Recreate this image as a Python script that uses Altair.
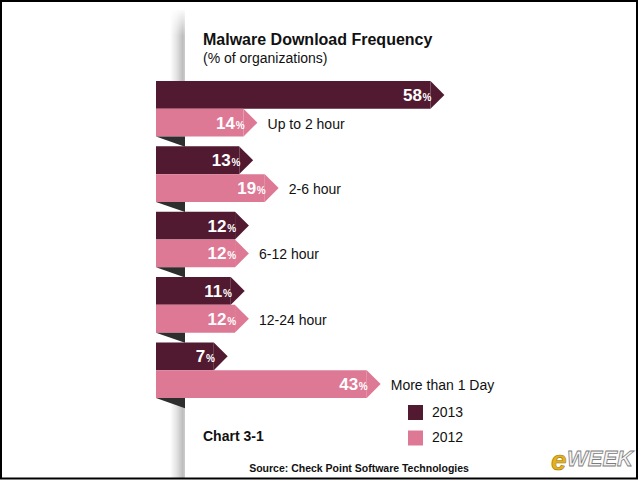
import altair as alt
import pandas as pd

# Share of organizations by how often malware was downloaded
categories = ["Up to 2 hour", "2-6 hour", "6-12 hour", "12-24 hour", "More than 1 Day"]
years = ["2013", "2012"]
share_2013 = [58, 13, 12, 11, 7]
share_2012 = [14, 19, 12, 12, 43]

DARK = "#511a31"
PINK = "#de7995"
FOLD = "#2e2e2e"
FONT = "Liberation Sans"

rows = []
for cat, a, b in zip(categories, share_2013, share_2012):
    rows.append({"category": cat, "year": "2013", "pct": a})
    rows.append({"category": cat, "year": "2012", "pct": b})
df = pd.DataFrame(rows)
df["num"] = df["pct"].astype(str)
df_2012 = df[df["year"] == "2012"]

# the ribbons reach past zero into the folded tail on the left
TAIL = -6.6
x_scale = alt.Scale(domain=[TAIL, 60], range=[156, 439], zero=False, nice=False)
y_scale = alt.Scale(domain=categories, range=[81, 398], paddingInner=0.151, paddingOuter=0)
off_scale = alt.Scale(domain=years, paddingInner=0, paddingOuter=0)
color_scale = alt.Scale(domain=years, range=[DARK, PINK])

Y = alt.Y("category:N", scale=y_scale, axis=None)
YOFF = alt.YOffset("year:N", scale=off_scale)
X = alt.X("pct:Q", scale=x_scale, axis=None)

base = alt.Chart(df).encode(y=Y, yOffset=YOFF)

# ribbon bodies
bars = base.mark_bar(cornerRadius=0).encode(
    x=X,
    x2=alt.datum(TAIL),
    color=alt.Color(
        "year:N",
        scale=color_scale,
        legend=alt.Legend(
            orient="none", legendX=408, legendY=405, title=None,
            symbolType="square", symbolSize=225, symbolStrokeWidth=0,
            symbolOpacity=1, labelFont=FONT, labelFontSize=14,
            labelColor="#111111", labelOffset=9, rowPadding=10.5, padding=0,
        ),
    ),
)

# arrow heads at the value end of each ribbon
tips = base.mark_point(
    shape="M0,-1L1,0L0,1Z", size=770, filled=True, opacity=1, strokeWidth=0
).encode(x=X, color=alt.Color("year:N", scale=color_scale, legend=None))

# folded ribbon ends below each pair
folds = alt.Chart(df_2012).mark_point(
    shape="M-1,0L1,0L1,0.7Z", size=841, filled=True, opacity=1,
    strokeWidth=0, color=FOLD,
).encode(y=alt.Y("category:N", scale=y_scale, axis=None, bandPosition=1), x=alt.value(170.5))

nums = base.mark_text(
    font=FONT, fontWeight="bold", fontSize=17, color="white",
    align="right", baseline="alphabetic", dx=-8.5, dy=6,
).encode(x=X, text="num:N")

pcts = base.mark_text(
    font=FONT, fontWeight="bold", fontSize=10, color="white",
    align="right", baseline="alphabetic", dx=1, dy=6,
).encode(x=X, text=alt.value("%"))

cat_labels = alt.Chart(df_2012).mark_text(
    font=FONT, fontSize=14, color="#111111", align="left",
    baseline="alphabetic", dx=24, dy=6,
).encode(y=Y, yOffset=YOFF, x=X, text="category:N")

one = pd.DataFrame({"k": [0]})


def label(text, x, y, size, weight="normal", align="left", color="#111111", **kw):
    return alt.Chart(one).mark_text(
        font=FONT, fontSize=size, fontWeight=weight, align=align,
        baseline="alphabetic", color=color, **kw,
    ).encode(x=alt.value(x), y=alt.value(y), text=alt.value(text))


# page-edge shadow above and below the ribbons
shade = alt.Gradient(
    gradient="linear",
    stops=[
        alt.GradientStop(color="#ffffff", offset=0),
        alt.GradientStop(color="#e2e2e2", offset=0.45),
        alt.GradientStop(color="#bdbdbd", offset=0.85),
        alt.GradientStop(color="#cdcdcd", offset=1),
    ],
    x1=0, x2=1, y1=0, y2=0,
)
fade = alt.Gradient(
    gradient="linear",
    stops=[
        alt.GradientStop(color="rgba(255,255,255,1)", offset=0),
        alt.GradientStop(color="rgba(255,255,255,0)", offset=1),
    ],
    x1=0, x2=0, y1=0, y2=1,
)
shadow_top = alt.Chart(one).mark_rect(color=shade).encode(
    x=alt.value(170), x2=alt.value(185), y=alt.value(10), y2=alt.value(81)
)
shadow_fade = alt.Chart(one).mark_rect(color=fade).encode(
    x=alt.value(166), x2=alt.value(188), y=alt.value(8), y2=alt.value(36)
)
shadow_bottom = alt.Chart(one).mark_rect(color=shade).encode(
    x=alt.value(170), x2=alt.value(185), y=alt.value(397), y2=alt.value(479)
)

frame = alt.Chart(one).mark_rect(
    fill=None, stroke="#000000", strokeWidth=2
).encode(x=alt.value(1), x2=alt.value(637), y=alt.value(1), y2=alt.value(478.5))

title = label("Malware Download Frequency", 203, 44.5, 16, "bold")
subtitle = label("(% of organizations)", 203, 63, 14)
chart_no = label("Chart 3-1", 203, 440.5, 14, "bold")
source = label("Source: Check Point Software Technologies", 359, 471.5, 10.5, "bold", align="center")
logo_e = label("e", 551, 470, 28, "bold", color="#e6b01e", fontStyle="italic",
               stroke="#9a7a10", strokeWidth=0.6)
logo_week = label("WEEK", 567, 466, 22, "bold", color="#f4f4f4", fontStyle="italic",
                  stroke="#7d7d7d", strokeWidth=0.8)

chart = alt.layer(
    shadow_top, shadow_fade, shadow_bottom, bars, tips, folds, nums, pcts, cat_labels,
    title, subtitle, chart_no, source, logo_e, logo_week, frame,
).properties(
    width=640, height=480, padding=0, background="white",
    autosize=alt.AutoSizeParams(type="none"),
).configure_view(stroke=None)

chart.save("out.html", embed_options={"renderer": "svg", "actions": False})
